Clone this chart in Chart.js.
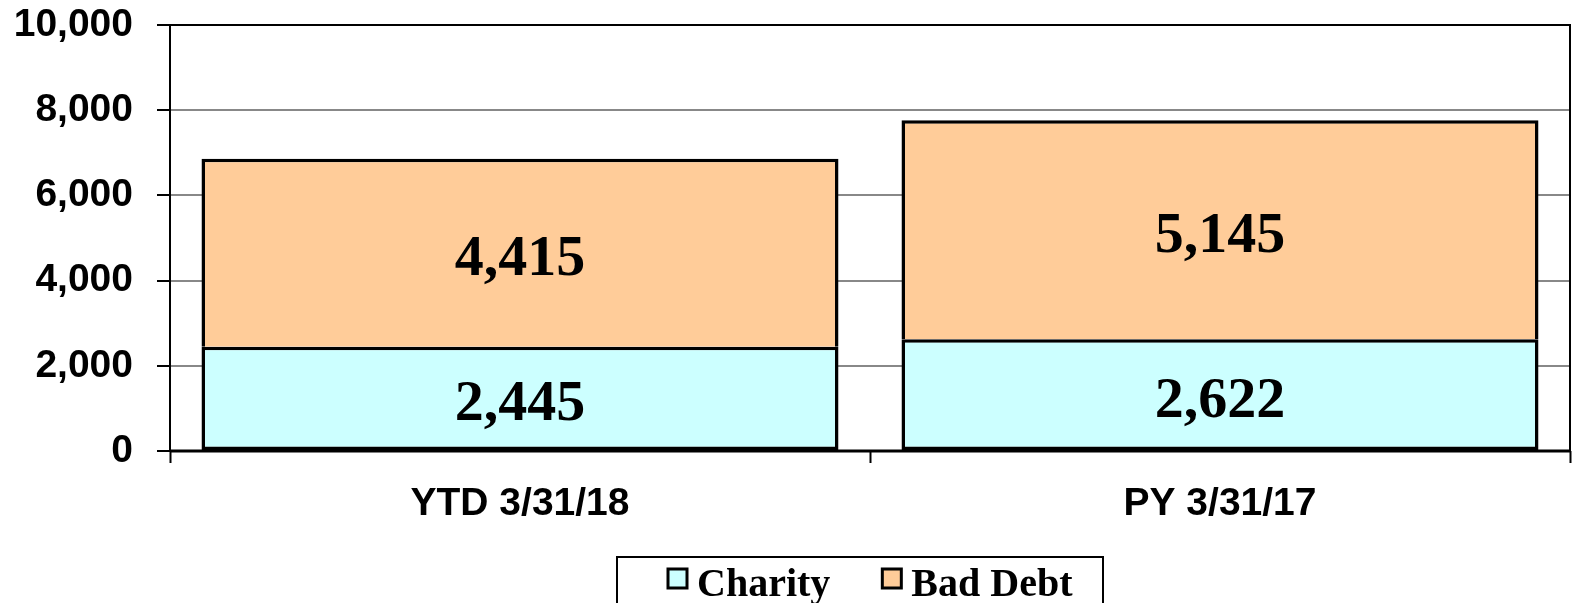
<!DOCTYPE html>
<html>
<head>
<meta charset="utf-8">
<script src="https://cdn.jsdelivr.net/npm/chart.js@4"></script>
<style>
  html, body { margin: 0; padding: 0; background: #fff; overflow: hidden; }
  canvas { display: block; }
</style>
</head>
<body>
<canvas id="mycanvas" width="1574" height="603"></canvas>
<script>
var periods = ['YTD 3/31/18', 'PY 3/31/17'];
var charity = [2445, 2622];
var badDebt = [4415, 5145];
var yTicks = [0, 2000, 4000, 6000, 8000, 10000];

function fmt(v) {
  return v.toLocaleString('en-US');
}

// value labels in the middle of each bar segment
var valueLabels = {
  id: 'valueLabels',
  afterDatasetsDraw: function(chart) {
    var ctx = chart.ctx;
    ctx.save();
    ctx.font = 'bold 58px "Liberation Serif", "Times New Roman", serif';
    ctx.fillStyle = '#000';
    ctx.textAlign = 'center';
    ctx.textBaseline = 'middle';
    chart.data.datasets.forEach(function(ds, i) {
      chart.getDatasetMeta(i).data.forEach(function(bar, j) {
        ctx.fillText(fmt(ds.data[j]), bar.x, (bar.y + bar.base) / 2 + 7);
      });
    });
    ctx.restore();
  }
};

// box round the plot area
var plotFrame = {
  id: 'plotFrame',
  afterDraw: function(chart) {
    var a = chart.chartArea, ctx = chart.ctx;
    ctx.save();
    ctx.strokeStyle = '#000';
    ctx.lineWidth = 2;
    ctx.strokeRect(a.left, a.top, a.right - a.left, a.bottom - a.top);
    ctx.lineWidth = 3;
    ctx.beginPath();
    ctx.moveTo(a.left, a.bottom);
    ctx.lineTo(a.right, a.bottom);
    ctx.stroke();
    ctx.restore();
  }
};

// boxed legend under the chart
var boxLegend = {
  id: 'boxLegend',
  afterDraw: function(chart) {
    var ctx = chart.ctx;
    var left = 617, top = 557, right = 1103;
    ctx.save();
    ctx.strokeStyle = '#000';
    ctx.lineWidth = 2;
    ctx.strokeRect(left, top, right - left, 80);
    ctx.font = 'bold 40px "Liberation Serif", "Times New Roman", serif';
    ctx.textBaseline = 'alphabetic';
    ctx.textAlign = 'left';
    var x = 668;
    chart.data.datasets.forEach(function(ds, i) {
      ctx.fillStyle = ds.backgroundColor;
      ctx.fillRect(x, 569, 19, 19);
      ctx.lineWidth = 3;
      ctx.strokeStyle = '#000';
      ctx.strokeRect(x, 569, 19, 19);
      ctx.fillStyle = '#000';
      ctx.fillText(ds.label, x + 29, 596);
      x += 29 + ctx.measureText(ds.label).width + 52;
    });
    ctx.restore();
  }
};

var ctx = document.getElementById('mycanvas');
var barGraph = new Chart(ctx, {
  type: 'bar',
  data: {
    labels: periods,
    datasets: [
      {
        label: 'Charity',
        backgroundColor: '#CCFFFF',
        borderColor: '#000',
        borderWidth: 3.5,
        borderSkipped: false,
        data: charity
      },
      {
        label: 'Bad Debt',
        backgroundColor: '#FFCC99',
        borderColor: '#000',
        borderWidth: 3.5,
        borderSkipped: 'bottom',
        data: badDebt
      }
    ]
  },
  options: {
    responsive: false,
    animation: false,
    devicePixelRatio: 1,
    layout: { padding: { top: 25, right: 4, left: 0, bottom: 46 } },
    datasets: { bar: { categoryPercentage: 1, barPercentage: 0.91 } },
    plugins: {
      legend: { display: false },
      tooltip: { enabled: false }
    },
    scales: {
      x: {
        stacked: true,
        offset: true,
        border: { display: false },
        grid: {
          offset: true,
          drawOnChartArea: false,
          drawTicks: true,
          tickLength: 12,
          tickColor: '#000',
          tickWidth: 2
        },
        ticks: {
          color: '#000',
          padding: 18,
          maxRotation: 0,
          font: { family: '"Liberation Sans", Arial, sans-serif', size: 39, weight: 'bold' }
        },
        afterFit: function(scale) { scale.height = 106; }
      },
      y: {
        stacked: true,
        min: 0,
        max: 10000,
        border: { display: false },
        afterBuildTicks: function(scale) {
          scale.ticks = yTicks.map(function(v) { return { value: v }; });
        },
        grid: {
          color: function(c) {
            return (c.tick && (c.tick.value === 0 || c.tick.value === 10000)) ? '#000' : '#888';
          },
          lineWidth: 2,
          tickLength: 13,
          tickColor: '#000',
          tickWidth: 2
        },
        ticks: {
          color: '#000',
          padding: 24,
          callback: function(v) { return fmt(v); },
          font: { family: '"Liberation Sans", Arial, sans-serif', size: 39, weight: 'bold' }
        },
        afterFit: function(scale) {
          scale.width = 170;
          scale.paddingTop = 0;
          scale.paddingBottom = 0;
        }
      }
    }
  },
  plugins: [valueLabels, plotFrame, boxLegend]
});
</script>
</body>
</html>
